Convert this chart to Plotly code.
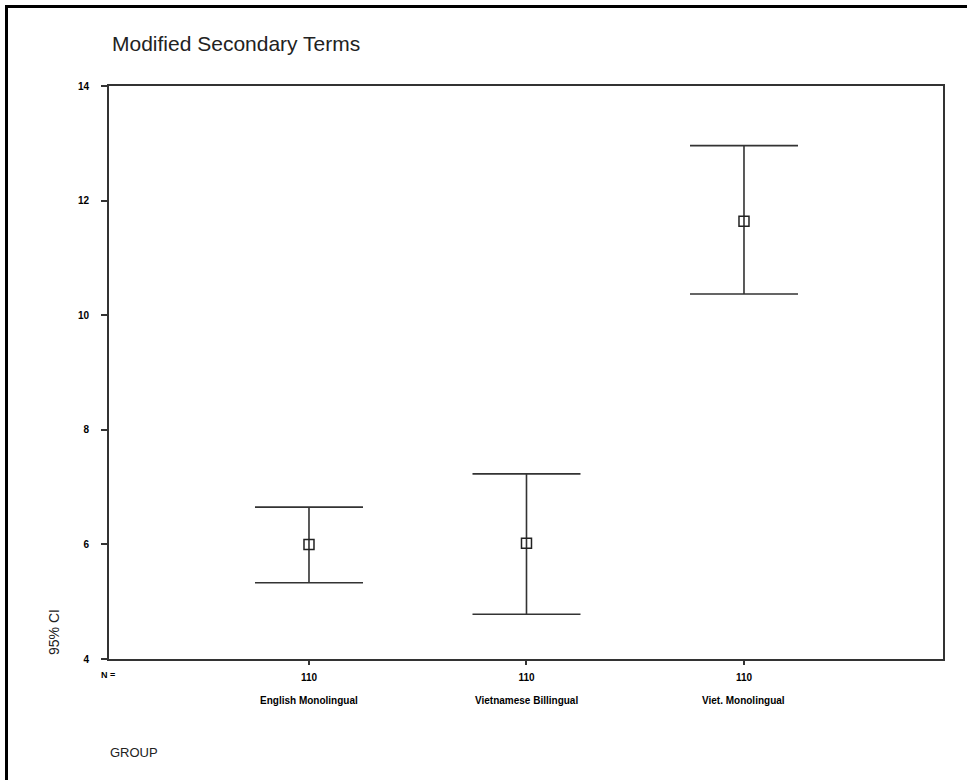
import plotly.graph_objects as go

groups = ["English Monolingual", "Vietnamese Billingual", "Viet. Monolingual"]
n_labels = ["110", "110", "110"]
means = [6.00, 6.02, 11.64]
upper = [6.65, 7.23, 12.96]
lower = [5.33, 4.78, 10.37]
y_ticks = [4, 6, 8, 10, 12, 14]

xpos = [1, 2, 3]
err_plus = [u - m for u, m in zip(upper, means)]
err_minus = [m - l for m, l in zip(means, lower)]

W, H = 967, 780
L, R, T, B = 109, 943, 86, 659
pw, ph = R - L, B - T

def px(x):
    return (x - L) / pw

def py(y):
    return (B - y) / ph

FONT = "Liberation Sans, Arial, sans-serif"

fig = go.Figure()
fig.add_trace(go.Scatter(
    x=xpos, y=means, mode="markers",
    marker=dict(symbol="square-open", size=10, color="#222",
                line=dict(width=1.5, color="#222")),
    error_y=dict(type="data", symmetric=False, array=err_plus,
                 arrayminus=err_minus, width=54, thickness=1.6, color="#333"),
    showlegend=False, hoverinfo="skip"))

annotations = []
for x, g in zip(xpos, groups):
    annotations.append(dict(x=x, xref="x", y=py(700), yref="paper", text="<b>" + g + "</b>",
                            showarrow=False, xanchor="center", yanchor="middle",
                            font=dict(family=FONT, size=10, color="#000")))
annotations.append(dict(x=px(99), xref="paper", y=py(675), yref="paper", text="<b>N =</b>",
                        showarrow=False, xanchor="left", yanchor="middle",
                        font=dict(family=FONT, size=9, color="#000")))
annotations.append(dict(x=px(108), xref="paper", y=py(752), yref="paper", text="GROUP",
                        showarrow=False, xanchor="left", yanchor="middle",
                        font=dict(family=FONT, size=13, color="#222")))
annotations.append(dict(x=px(54), xref="paper", y=py(632), yref="paper", text="95% CI",
                        showarrow=False, xanchor="center", yanchor="middle", textangle=-90,
                        font=dict(family=FONT, size=14, color="#222")))
annotations.append(dict(x=px(110), xref="paper", y=py(43), yref="paper",
                        text="Modified Secondary Terms",
                        showarrow=False, xanchor="left", yanchor="middle",
                        font=dict(family=FONT, size=21, color="#222")))

fig.update_layout(
    width=W, height=H, autosize=False,
    margin=dict(l=L, r=W - R, t=T, b=H - B, pad=0),
    paper_bgcolor="white", plot_bgcolor="white",
    annotations=annotations,
    shapes=[
        dict(type="line", xref="paper", yref="paper",
             x0=px(6.5), x1=px(6.5), y0=py(800), y1=py(5.5),
             line=dict(color="#000", width=3), layer="below"),
        dict(type="line", xref="paper", yref="paper",
             x0=px(5), x1=px(1000), y0=py(6.5), y1=py(6.5),
             line=dict(color="#000", width=3), layer="below"),
    ],
    xaxis=dict(range=[0.0805, 3.915], tickmode="array", tickvals=xpos,
               ticktext=["<b>" + t + "</b>" for t in n_labels],
               showgrid=False, zeroline=False, showline=True, mirror=True,
               linecolor="#333", linewidth=2, ticks="outside", ticklen=4,
               tickcolor="#333", tickwidth=1.5, ticklabelstandoff=4,
               tickfont=dict(family=FONT, size=10, color="#000")),
    yaxis=dict(range=[4, 14], tickmode="array", tickvals=y_ticks,
               ticktext=["<b>" + str(v) + "</b>" for v in y_ticks],
               showgrid=False, zeroline=False, showline=True, mirror=True,
               linecolor="#333", linewidth=2, ticks="outside", ticklen=6,
               tickcolor="#333", tickwidth=1.5, ticklabelstandoff=10,
               tickfont=dict(family=FONT, size=10, color="#000")),
)

fig.write_html("out.html")
